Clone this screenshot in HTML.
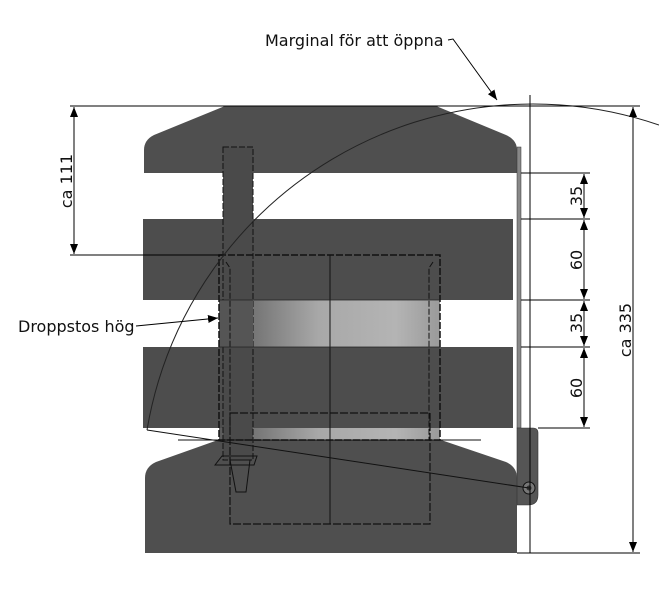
<!DOCTYPE html>
<html><head><meta charset="utf-8"><style>
html,body{margin:0;padding:0;background:#fff;}
svg{display:block;}
text{font-family:"DejaVu Sans","Liberation Sans",sans-serif;fill:#111;}
</style></head><body>
<svg width="659" height="600" viewBox="0 0 659 600" xmlns="http://www.w3.org/2000/svg">
<defs>
<linearGradient id="g1" x1="0" x2="1" y1="0" y2="0">
<stop offset="0" stop-color="#5a5a5a"/><stop offset="0.45" stop-color="#a8a8a8"/><stop offset="0.8" stop-color="#b4b4b4"/><stop offset="1" stop-color="#9a9a9a"/>
</linearGradient>
<marker id="ar" markerWidth="10" markerHeight="8" refX="10" refY="4" orient="auto" markerUnits="userSpaceOnUse">
<path d="M0,0 L10,4 L0,8 Z" fill="#000"/></marker>
<marker id="ar2" markerWidth="10" markerHeight="8" refX="0" refY="4" orient="auto" markerUnits="userSpaceOnUse">
<path d="M10,0 L0,4 L10,8 Z" fill="#000"/></marker>
</defs>
<rect x="219" y="300" width="221" height="47" fill="url(#g1)"/>
<rect x="219" y="428" width="221" height="12" fill="url(#g1)"/>
<path d="M225,106 L436,106 L506,135 Q517,140 517,150 L517,173 L144,173 L144,150 Q144,140 154,135 Z" fill="#4f4f4f"/>
<rect x="143" y="219" width="370" height="81" fill="#4d4d4d"/>
<rect x="143" y="347" width="370" height="81" fill="#4d4d4d"/>
<path d="M218,440 L441,440 L506,462 Q517,467 517,478 L517,553 L145,553 L145,478 Q145,467 156,462 Z" fill="#4f4f4f"/>
<rect x="223" y="147" width="30" height="313" fill="#4a4a4a" stroke="#111" stroke-width="1" stroke-dasharray="6,2"/>
<rect x="219" y="300" width="34" height="47" fill="#555"/>
<path d="M230,460 L250,460 L246,492 L236,492 Z" fill="none" stroke="#111" stroke-width="1"/>
<path d="M215,465 L222,456 L257,456 L254,465 Z" fill="none" stroke="#111" stroke-width="1"/>
<rect x="219" y="255" width="221" height="185" fill="none" stroke="#111" stroke-width="1.5" stroke-dasharray="7,2"/>
<path d="M226,262 L230,268 L230,440 M433,262 L429,268 L429,440" fill="none" stroke="#111" stroke-width="1" stroke-dasharray="6,2"/>
<rect x="230" y="413" width="200" height="111" fill="none" stroke="#111" stroke-width="1.2" stroke-dasharray="8,2"/>
<line x1="330" y1="255" x2="330" y2="524" stroke="#111" stroke-width="1"/>
<line x1="219" y1="300" x2="440" y2="300" stroke="#222" stroke-width="0.8"/>
<line x1="219" y1="347" x2="440" y2="347" stroke="#222" stroke-width="0.8"/>
<line x1="178" y1="440" x2="481" y2="440" stroke="#111" stroke-width="1"/>
<rect x="517" y="147" width="4" height="281" fill="#888" stroke="#333" stroke-width="0.5"/>
<path d="M517,428 L533,428 Q538,428 538,433 L538,495 Q538,505 528,505 L517,505 Z" fill="#555" stroke="#333" stroke-width="0.6"/>
<circle cx="529" cy="488" r="6" fill="#777" stroke="#111" stroke-width="1"/>
<circle cx="529" cy="488" r="2.5" fill="#333"/>
<path d="M147,430 A391,391 0 0 1 659,125" fill="none" stroke="#222" stroke-width="1"/>
<line x1="147" y1="430" x2="529" y2="488" stroke="#111" stroke-width="1"/>
<line x1="530" y1="95" x2="530" y2="553" stroke="#000" stroke-width="1"/>
<line x1="70" y1="106" x2="640" y2="106" stroke="#000" stroke-width="1"/>
<line x1="517" y1="553" x2="640" y2="553" stroke="#000" stroke-width="1"/>
<line x1="70" y1="255" x2="222" y2="255" stroke="#000" stroke-width="1"/>
<g stroke="#000" stroke-width="1">
<line x1="521" y1="173" x2="590" y2="173"/>
<line x1="521" y1="219" x2="590" y2="219"/>
<line x1="521" y1="300" x2="590" y2="300"/>
<line x1="521" y1="347" x2="590" y2="347"/>
<line x1="538" y1="428" x2="590" y2="428"/>
</g>
<g stroke="#000" stroke-width="1">
<line x1="584" y1="174" x2="584" y2="218" marker-start="url(#ar2)" marker-end="url(#ar)"/>
<line x1="584" y1="220" x2="584" y2="299" marker-start="url(#ar2)" marker-end="url(#ar)"/>
<line x1="584" y1="301" x2="584" y2="346" marker-start="url(#ar2)" marker-end="url(#ar)"/>
<line x1="584" y1="348" x2="584" y2="427" marker-start="url(#ar2)" marker-end="url(#ar)"/>
<line x1="633" y1="107" x2="633" y2="552" marker-start="url(#ar2)" marker-end="url(#ar)"/>
<line x1="74" y1="107" x2="74" y2="254" marker-start="url(#ar2)" marker-end="url(#ar)"/>
</g>
<g font-size="16">
<text transform="translate(582,196) rotate(-90)" text-anchor="middle">35</text>
<text transform="translate(582,260) rotate(-90)" text-anchor="middle">60</text>
<text transform="translate(582,323) rotate(-90)" text-anchor="middle">35</text>
<text transform="translate(582,388) rotate(-90)" text-anchor="middle">60</text>
<text transform="translate(631,330) rotate(-90)" text-anchor="middle">ca 335</text>
<text transform="translate(72,181) rotate(-90)" text-anchor="middle">ca 111</text>
<text x="265" y="46">Marginal för att öppna</text>
<text x="18" y="332">Droppstos hög</text>
</g>
<polyline points="448,40 453,39 497,100" fill="none" stroke="#000" stroke-width="1" marker-end="url(#ar)"/>
<line x1="136" y1="326" x2="218" y2="318" stroke="#000" stroke-width="1" marker-end="url(#ar)"/>
</svg>
</body></html>
